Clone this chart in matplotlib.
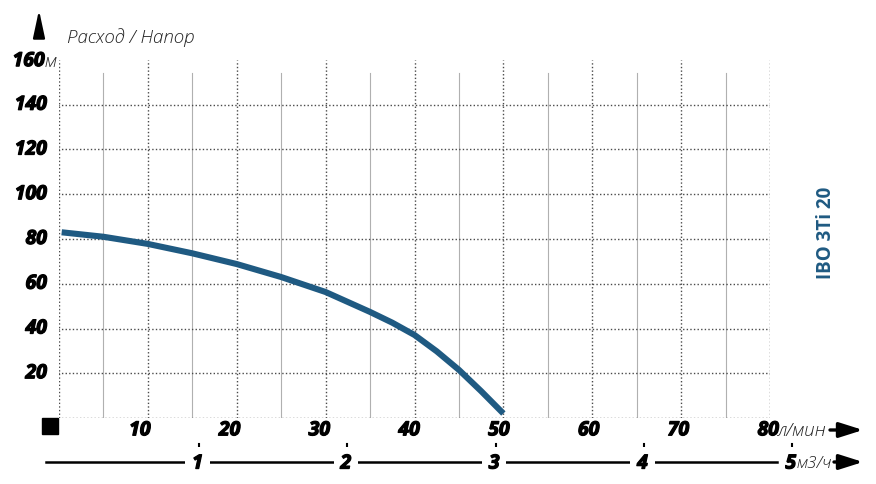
import matplotlib
matplotlib.use("Agg")
import matplotlib.pyplot as plt
from matplotlib.patches import Rectangle, FancyArrowPatch
import matplotlib.patheffects as pe

# ---- data ----
flow_lpm = [0.3, 5, 10, 15, 20, 25, 30, 35, 37.5, 40, 42.5, 45, 47.5, 50]
head_m = [83, 81, 77.8, 73.6, 68.8, 63, 56.3, 47.4, 42.6, 37.1, 29.8, 21.5, 12.0, 2.0]
x_major = [10, 20, 30, 40, 50, 60, 70, 80]
x_minor = [5, 15, 25, 35, 45, 55, 65, 75]
y_ticks = [20, 40, 60, 80, 100, 120, 140, 160]
m3h_ticks = [1, 2, 3, 4, 5]
model_name = "IBO 3Ti 20"
y_title = "Расход / Напор"
unit_head = "м"
unit_lpm = "л/мин"
unit_m3h = "м3/ч"

W, H = 876, 484
fig = plt.figure(figsize=(W / 100, H / 100), dpi=100)
fam = ["Open Sans", "DejaVu Sans"]

L, R, T, B = 59, 770, 60, 418
ax = fig.add_axes([L / W, 1 - B / H, (R - L) / W, (B - T) / H])
ax.set_xlim(0, 80)
ax.set_ylim(0, 160)
ax.axis("off")

dot = dict(color="#4a4a4a", lw=1.0, ls=(0, (1, 1.6)))
for v in x_minor:
    ax.plot([v, v], [0, 154], color="#b0b0b0", lw=0.8, zorder=1)
for v in [0] + x_major:
    ax.plot([v, v], [0, 160], zorder=2, **dot)
for v in [0] + y_ticks[:-1]:
    ax.plot([-1.3, 80], [v, v], zorder=2, **dot)

ax.plot(flow_lpm, head_m, color="#1f5a82", lw=4.4, solid_capstyle="butt",
        solid_joinstyle="round", zorder=5)

heavy = [pe.withStroke(linewidth=0.9, foreground="black")]
lab = dict(fontsize=14, fontweight="bold", style="italic", family=fam, clip_on=False,
           path_effects=heavy)
unit = dict(fontsize=13.5, style="italic", family=fam, fontweight="light", color="#222222")
for v in y_ticks[:-1]:
    ax.text(-1.35, v, str(v), ha="right", va="center", **lab)
ax.text(-1.6, 159.5, str(y_ticks[-1]), ha="right", va="center", **lab)
ax.text(-1.6, 159.0, unit_head, ha="left", va="center", **unit)
for v in x_major:
    ax.text(v - 0.9 + 0.01 * (v - 10), -5.5, str(v), ha="center", va="center", **lab)
ax.text(80.9, -6.0, unit_lpm, ha="left", va="center", **unit)

# ---- second (m3/h) axis ----
ax2 = fig.add_axes([L / W, 0, (R - L) / W, (H - B) / H])
ax2.set_xlim(0.056, 4.85)
ax2.set_ylim(0, 1)
ax2.axis("off")
ax2.plot([-0.03, 4.9], [0.333, 0.333], color="black", lw=1.8, clip_on=False, zorder=1)
for v in m3h_ticks:
    ax2.plot([v, v], [0.52, 0.61], color="black", lw=1.5, clip_on=False)
    ax2.text(v - 0.01, 0.31, str(v), ha="center", va="center",
             bbox=dict(boxstyle="square,pad=0.35", fc="white", ec="none"), zorder=3, **lab)
unit_small = dict(unit, fontsize=12.5)
ax2.text(m3h_ticks[-1] + 0.03, 0.30, unit_m3h, ha="left", va="center", zorder=4, **unit_small)

# ---- decorations in pixel coordinates ----
def px(x, y):
    return (x / W, 1 - y / H)

arrow = dict(arrowstyle="-|>,head_length=1.2,head_width=0.38", color="black", lw=2.4)
fig.add_artist(FancyArrowPatch(px(830, 430), px(863, 430), transform=fig.transFigure,
                               mutation_scale=12, shrinkA=0, shrinkB=0, **arrow))
fig.add_artist(FancyArrowPatch(px(834, 462), px(863, 462), transform=fig.transFigure,
                               mutation_scale=12, shrinkA=0, shrinkB=0, **arrow))
fig.add_artist(FancyArrowPatch(px(39, 36), px(39, 10), transform=fig.transFigure,
                               mutation_scale=12, shrinkA=0, shrinkB=0,
                               arrowstyle="-|>,head_length=1.4,head_width=0.3",
                               color="black", lw=1.6))
fig.add_artist(Rectangle(px(42, 434), 16 / W, 16 / H, transform=fig.transFigure,
                         color="black"))
fig.text(*px(67, 38), y_title, ha="left", va="center", fontsize=13.5, style="italic",
         family=fam, fontweight="light", color="#222222")
fig.text(*px(826, 233), model_name, ha="center", va="center", rotation=90,
         fontsize=13.5, fontweight="bold", color="#1f5a82", family=fam)

fig.savefig("out.png", dpi=100, facecolor="white")
